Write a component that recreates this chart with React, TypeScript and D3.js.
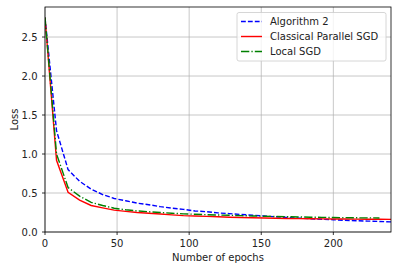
import React from "react";
import * as d3 from "d3";

const epochs = d3.range(0, 241, 8);
const algo2 = [2.75, 1.3, 0.8, 0.65, 0.55, 0.48, 0.43, 0.4, 0.37, 0.35, 0.325, 0.305, 0.29, 0.27, 0.26, 0.245, 0.235, 0.225, 0.215, 0.205, 0.195, 0.185, 0.178, 0.17, 0.163, 0.157, 0.15, 0.145, 0.14, 0.135, 0.13];
const parallel = [2.75, 0.92, 0.51, 0.41, 0.34, 0.31, 0.28, 0.265, 0.25, 0.24, 0.23, 0.22, 0.21, 0.205, 0.2, 0.195, 0.19, 0.186, 0.182, 0.179, 0.176, 0.174, 0.172, 0.17, 0.168, 0.167, 0.166, 0.165, 0.164, 0.163, 0.162];
const localSgd = [2.75, 1.0, 0.57, 0.46, 0.38, 0.34, 0.305, 0.285, 0.27, 0.26, 0.25, 0.24, 0.233, 0.227, 0.222, 0.218, 0.214, 0.21, 0.206, 0.202, 0.199, 0.196, 0.193, 0.19, 0.188, 0.186, 0.184, 0.182, 0.181, 0.18];

const xTicks = [0, 50, 100, 150, 200];
const yTicks = [0, 0.5, 1.0, 1.5, 2.0, 2.5];
const seriesNames = ["Algorithm 2", "Classical Parallel SGD", "Local SGD"];

export default function App() {
  const W = 399, H = 271;
  const L = 45, R = 391, T = 7, B = 232;
  const x = d3.scaleLinear().domain([0, 240]).range([L, R]);
  const y = d3.scaleLinear().domain([0, 2.885]).range([B, T]);
  const line = d3.line<[number, number]>().x(d => x(d[0])).y(d => y(d[1]));
  const series = [
    { name: seriesNames[0], data: algo2, color: "#0000ff", dash: "4.8,2.1" },
    { name: seriesNames[1], data: parallel, color: "#ff0000", dash: "" },
    { name: seriesNames[2], data: localSgd, color: "#008000", dash: "8.3,2.1,1.3,2.1" },
  ];
  const font = "DejaVu Sans, sans-serif";
  const fs = 10;
  return (
    <svg width={W} height={H} style={{ position: "absolute", left: 0, top: 0 }} fontFamily={font}>
      <rect width={W} height={H} fill="#fff" />
      <defs>
        <clipPath id="clip"><rect x={L} y={T} width={R - L} height={B - T} /></clipPath>
      </defs>
      {xTicks.map(t => (
        <line key={"gx" + t} x1={x(t)} x2={x(t)} y1={T} y2={B} stroke="#b0b0b0" strokeWidth={0.7} />
      ))}
      {yTicks.map(t => (
        <line key={"gy" + t} x1={L} x2={R} y1={y(t)} y2={y(t)} stroke="#b0b0b0" strokeWidth={0.7} />
      ))}
      <g clipPath="url(#clip)">
        {series.map(s => (
          <path key={s.name} d={line(s.data.map((v, i) => [epochs[i], v] as [number, number])) || ""}
            fill="none" stroke={s.color} strokeWidth={1.4} strokeDasharray={s.dash} />
        ))}
      </g>
      <rect x={L} y={T} width={R - L} height={B - T} fill="none" stroke="#000" strokeWidth={0.8} />
      {xTicks.map(t => (
        <g key={"tx" + t}>
          <line x1={x(t)} x2={x(t)} y1={B} y2={B + 3} stroke="#000" strokeWidth={0.8} />
          <text x={x(t)} y={B + 15} fontSize={fs} textAnchor="middle" fill="#222">{t}</text>
        </g>
      ))}
      {yTicks.map(t => (
        <g key={"ty" + t}>
          <line x1={L - 3} x2={L} y1={y(t)} y2={y(t)} stroke="#000" strokeWidth={0.8} />
          <text x={L - 7.5} y={y(t) + 3.6} fontSize={fs} textAnchor="end" fill="#222">{t.toFixed(1)}</text>
        </g>
      ))}
      <text x={(L + R) / 2} y={261} fontSize={fs} textAnchor="middle" fill="#222">Number of epochs</text>
      <text transform={`translate(17.5,${(T + B) / 2}) rotate(-90)`} fontSize={fs} textAnchor="middle" fill="#222">Loss</text>
      <g>
        <rect x={237} y={12.5} width={149} height={48.5} rx={2} fill="#fff" fillOpacity={0.8} stroke="#cccccc" strokeWidth={0.8} />
        {series.map((s, i) => (
          <g key={"lg" + s.name}>
            <line x1={241} x2={262} y1={21.5 + i * 15} y2={21.5 + i * 15} stroke={s.color} strokeWidth={1.4} strokeDasharray={s.dash} />
            <text x={270} y={25 + i * 15} fontSize={fs} fill="#222">{s.name}</text>
          </g>
        ))}
      </g>
    </svg>
  );
}
